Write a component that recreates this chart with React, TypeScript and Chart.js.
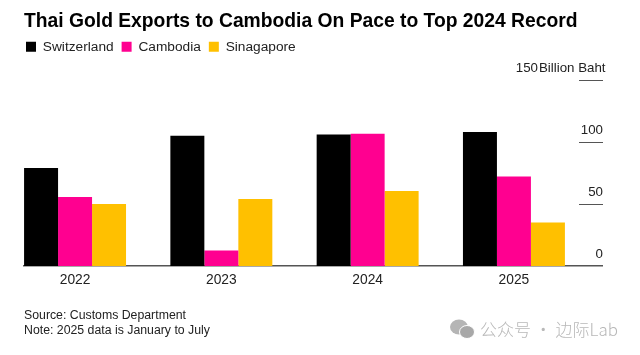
import React, { useEffect, useRef } from "react";
import { Chart, registerables } from "chart.js";

Chart.register(...registerables);

const years = [2022, 2023, 2024, 2025];
const switzerland = [79, 105, 106, 108];
const cambodia = [55.5, 12.5, 106.5, 72];
const singapore = [50, 54, 60.5, 35];
const yTicks = [0, 50, 100, 150];
const titleText = "Thai Gold Exports to Cambodia On Pace to Top 2024 Record";
const unitText = "Billion Baht";
const footerLines = ["Source: Customs Department", "Note: 2025 data is January to July"];
const FONT = "'Liberation Sans', Arial, sans-serif";

const yAxisMarks = {
  id: "yAxisMarks",
  beforeDraw(chart: any) {
    chart.legend.left = 18;
    chart.legend.top = 32;
  },
  afterDatasetsDraw(chart: any) {
    const { ctx, scales } = chart;
    const y = scales.y;
    ctx.save();
    ctx.font = `13.3px ${FONT}`;
    ctx.textBaseline = "middle";
    ctx.fillStyle = "#222";
    for (const v of yTicks) {
      const py = Math.round(y.getPixelForValue(v));
      if (v !== 0) {
        ctx.strokeStyle = "#555";
        ctx.lineWidth = 1;
        ctx.beginPath();
        ctx.moveTo(579, py + 0.5);
        ctx.lineTo(603, py + 0.5);
        ctx.stroke();
      }
      if (v === 150) {
        ctx.textAlign = "right";
        ctx.fillText(String(v), 538, py - 12);
        ctx.textAlign = "left";
        ctx.fillText(unitText, 539, py - 12);
      } else {
        ctx.textAlign = "right";
        ctx.fillText(String(v), 603, py - 12);
      }
    }
    ctx.restore();
  },
};

export default function App() {
  const ref = useRef<HTMLCanvasElement>(null);
  useEffect(() => {
    const chart = new Chart(ref.current as HTMLCanvasElement, {
      type: "bar",
      data: {
        datasets: [
          { label: "Switzerland", data: years.map((x, i) => ({ x, y: switzerland[i] })), backgroundColor: "#000000" },
          { label: "Cambodia", data: years.map((x, i) => ({ x, y: cambodia[i] })), backgroundColor: "#FF0090" },
          { label: "Sinagapore", data: years.map((x, i) => ({ x, y: singapore[i] })), backgroundColor: "#FFC000" },
        ],
      },
      options: {
        responsive: false,
        animation: false,
        layout: { padding: { left: 24, right: 38, top: 10, bottom: 17 } },
        datasets: { bar: { barPercentage: 1, categoryPercentage: 0.697 } },
        scales: {
          x: {
            type: "linear",
            offset: false,
            min: 2021.651,
            max: 2025.602,
            grid: { display: false },
            border: { color: "#555", width: 1.5 },
            ticks: {
              stepSize: 1,
              includeBounds: false,
              autoSkip: false,
              maxRotation: 0,
              padding: -2,
              color: "#222",
              font: { family: FONT, size: 13.8 },
              callback: (v: any) => String(v),
            },
          },
          y: { display: false, min: 0, max: 150 },
        },
        plugins: {
          tooltip: { enabled: false },
          title: {
            display: true,
            text: titleText,
            align: "start",
            color: "#000",
            font: { family: FONT, size: 19.3, weight: "bold" },
            padding: { top: 0, bottom: 15 },
          },
          subtitle: {
            display: true,
            position: "bottom",
            text: footerLines,
            align: "start",
            color: "#222",
            font: { family: FONT, size: 12.3, weight: "normal", lineHeight: 1.2 },
            padding: { top: 22, bottom: 0 },
          },
          legend: {
            display: true,
            position: "top",
            align: "start",
            labels: {
              boxWidth: 10,
              boxHeight: 10,
              padding: 8,
              color: "#222",
              font: { family: FONT, size: 13.7 },
            },
          },
        },
      },
      plugins: [yAxisMarks],
    } as any);
    return () => chart.destroy();
  }, []);
  return (
    <div style={{ position: "fixed", left: 0, top: 0, width: 640, height: 355, background: "#fff", overflow: "hidden" }}>
      <canvas ref={ref} width={640} height={355} style={{ display: "block" }} />
      <svg width="25" height="20" viewBox="0 0 25 20" style={{ position: "absolute", left: 450, top: 319 }}>
        <ellipse cx="9" cy="8" rx="9" ry="7.5" fill="#b5b5b5" />
        <ellipse cx="17" cy="13" rx="7.5" ry="6.5" fill="#a8a8a8" stroke="#fff" strokeWidth="1" />
      </svg>
      <div
        style={{
          position: "absolute",
          left: 480,
          top: 318,
          fontFamily: "'Noto Sans CJK SC', sans-serif",
          fontSize: 17,
          fontWeight: 300,
          lineHeight: "22px",
          color: "#b8b8b8",
          whiteSpace: "nowrap",
        }}
      >
        公众号 · 边际Lab
      </div>
    </div>
  );
}
